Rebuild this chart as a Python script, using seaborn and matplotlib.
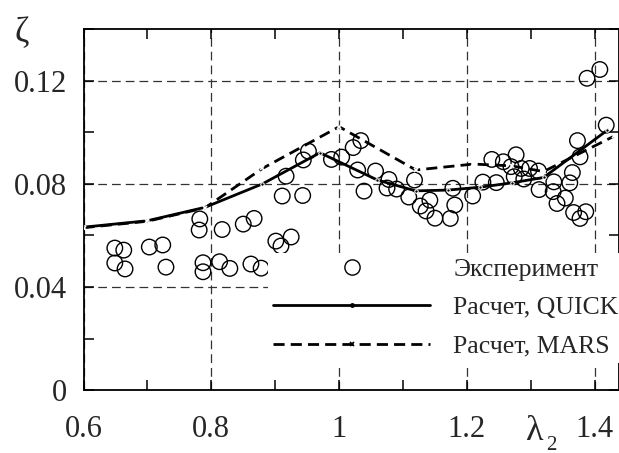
import numpy as np
import pandas as pd
import matplotlib
matplotlib.use("Agg")
import matplotlib.pyplot as plt
from matplotlib.lines import Line2D
from matplotlib.ticker import MultipleLocator
import seaborn as sns

# experiment (lambda_2, zeta)
exp_x = [0.649, 0.663, 0.649, 0.665, 0.703, 0.724, 0.729, 0.782, 0.781, 0.817,
         0.850, 0.867, 0.787, 0.787, 0.813, 0.829, 0.862, 0.878, 0.901, 0.909,
         0.925, 0.917, 0.911, 0.943, 0.944, 0.952, 0.988, 1.004, 1.022, 1.034,
         1.029, 1.039, 1.057, 1.078, 1.075, 1.090, 1.118, 1.109, 1.127, 1.142,
         1.136, 1.150, 1.178, 1.181, 1.174, 1.209, 1.225, 1.246, 1.239, 1.257,
         1.277, 1.269, 1.274, 1.285, 1.289, 1.298, 1.312, 1.313, 1.336, 1.335,
         1.341, 1.354, 1.365, 1.361, 1.373, 1.377, 1.367, 1.377, 1.386, 1.388,
         1.408, 1.418]
exp_y = [0.0551, 0.0543, 0.0493, 0.0470, 0.0555, 0.0563, 0.0477, 0.0664, 0.0621, 0.0623,
         0.0644, 0.0666, 0.0494, 0.0459, 0.0498, 0.0472, 0.0489, 0.0473, 0.0578, 0.0559,
         0.0594, 0.0830, 0.0753, 0.0755, 0.0893, 0.0927, 0.0895, 0.0904, 0.0941, 0.0968,
         0.0854, 0.0772, 0.0850, 0.0817, 0.0784, 0.0780, 0.0815, 0.0749, 0.0714, 0.0737,
         0.0695, 0.0667, 0.0783, 0.0718, 0.0666, 0.0753, 0.0807, 0.0805, 0.0895, 0.0886,
         0.0913, 0.0867, 0.0828, 0.0860, 0.0819, 0.0860, 0.0850, 0.0778, 0.0808, 0.0770,
         0.0724, 0.0745, 0.0844, 0.0804, 0.0968, 0.0905, 0.0689, 0.0666, 0.0692, 0.1210,
         0.1244, 0.1028]

# calculation, QUICK
quick_x = [0.60, 0.70, 0.79, 0.88, 0.97, 1.06, 1.12, 1.17, 1.22, 1.27, 1.32, 1.42]
quick_y = [0.0632, 0.0657, 0.0709, 0.0800, 0.0921, 0.0815, 0.0773, 0.0776, 0.0787, 0.0804, 0.0825, 0.1009]

# calculation, MARS
mars_x = [0.60, 0.70, 0.79, 0.88, 1.00, 1.12, 1.21, 1.27, 1.32, 1.43]
mars_y = [0.0630, 0.0655, 0.0707, 0.0860, 0.1022, 0.0854, 0.0877, 0.0870, 0.0848, 0.0985]

x_ticks = [0.6, 0.8, 1.0, 1.2, 1.4]
x_labels = ['0.6', '0.8', '1', '1.2', '1.4']
y_ticks = [0, 0.04, 0.08, 0.12]
y_labels = ['0', '0.04', '0.08', '0.12']

sns.set_style('ticks')
plt.rcParams['font.family'] = ['Liberation Serif', 'DejaVu Serif']

fig = plt.figure(figsize=(6.19, 4.53), dpi=100)
ax = fig.add_axes([0.1349, 0.139, 1.0 - 0.1349, 0.9353 - 0.139])

sns.scatterplot(x=exp_x, y=exp_y, ax=ax, marker='o', s=125,
                facecolor='none', edgecolor='black', linewidth=1.0, zorder=3)
sns.lineplot(x=quick_x, y=quick_y, ax=ax, color='black', lw=2.0,
             marker='.', markersize=5, zorder=4)
sns.lineplot(x=mars_x, y=mars_y, ax=ax, color='black', lw=2.0,
             linestyle=(0, (4, 2.2)), marker='x', markersize=3.5, mew=1.2, zorder=4)

ax.set_xlim(0.6, 1.438)
ax.set_ylim(0, 0.14)
ax.set_xticks(x_ticks)
ax.set_xticklabels(x_labels)
ax.set_yticks(y_ticks)
ax.set_yticklabels(y_labels)
ax.xaxis.set_minor_locator(MultipleLocator(0.1))
ax.yaxis.set_minor_locator(MultipleLocator(0.02))
ax.tick_params(which='both', direction='in', top=True, right=True,
               length=7, width=1.1, color='black')
ax.tick_params(axis='x', which='major', labelsize=22, pad=18)
ax.tick_params(axis='y', which='major', labelsize=22, pad=12)
for sp in ax.spines.values():
    sp.set_linewidth(1.3)
    sp.set_color('black')
ax.grid(True, which='major', linestyle=(0, (7, 4)), color='#333333', lw=0.9)
ax.set_axisbelow(True)

handles = [
    Line2D([], [], linestyle='none', marker='o', markersize=11, mfc='none',
           mec='black', mew=1.0),
    Line2D([], [], color='black', lw=2.0, marker='.', markersize=5),
    Line2D([], [], color='black', lw=2.0, linestyle=(0, (4, 2.2)),
           marker='x', markersize=3.5, mew=1.2),
]
labels = ['Эксперимент', 'Расчет, QUICK', 'Расчет, MARS']
leg = ax.legend(handles, labels, loc='upper left', bbox_to_anchor=(0.345, 0.38),
                frameon=True, fontsize=18.5, handlelength=6.1, handletextpad=0.9,
                labelspacing=0.6, borderpad=0.2, borderaxespad=0)
leg.get_frame().set_facecolor('white')
leg.get_frame().set_edgecolor('none')
leg.get_frame().set_alpha(1.0)
leg.get_frame().set_boxstyle('square', pad=0)

fig.text(22 / 619, 1 - 34 / 453, 'ζ', fontsize=25, ha='center', va='center')
fig.text(535 / 619, 1 - 432 / 453, 'λ', fontsize=26, ha='center', va='center')
fig.text(551 / 619, 1 - 445 / 453, '2', fontsize=15, ha='center', va='center')

fig.savefig('out.png', dpi=100)
